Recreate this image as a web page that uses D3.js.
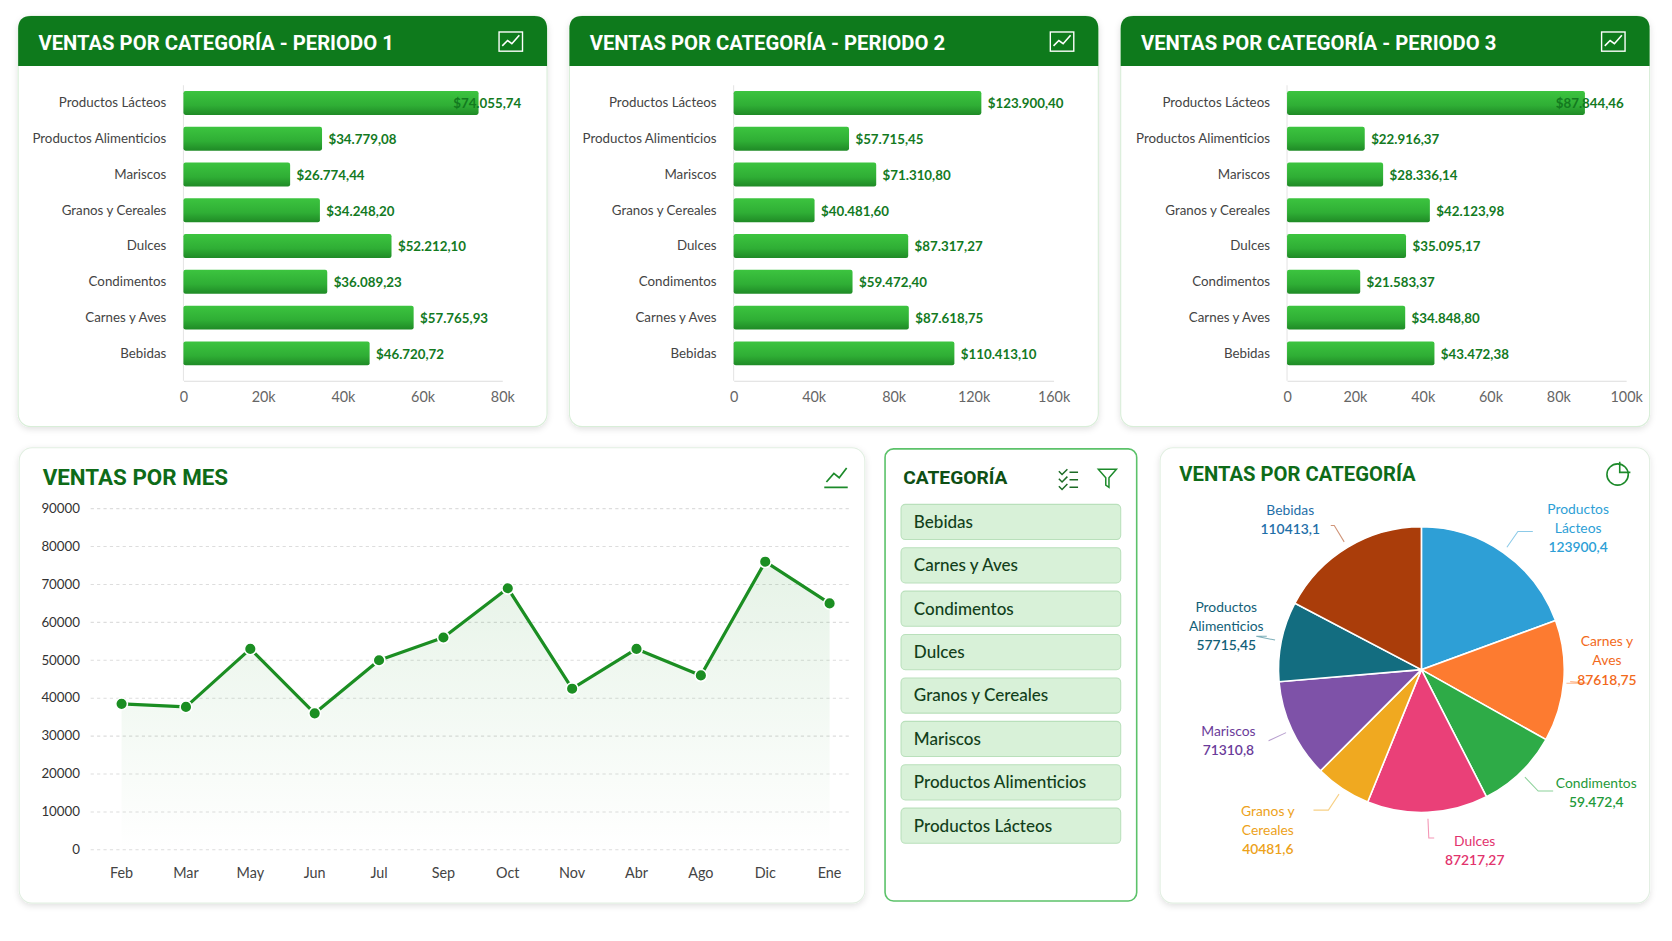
<!DOCTYPE html>
<html><head><meta charset="utf-8">
<script src="https://cdn.jsdelivr.net/npm/d3@7"></script>
<style>body{margin:0;background:#fff;overflow:hidden}svg{display:block;font-family:Lato,"Open Sans",sans-serif}</style>
</head><body>
<svg id="c" width="1672" height="941" viewBox="0 0 1568 882.5"></svg>
<script>
const categories = ["Productos Lácteos","Productos Alimenticios","Mariscos","Granos y Cereales","Dulces","Condimentos","Carnes y Aves","Bebidas"];
const period1 = [74055.74,34779.08,26774.44,34248.20,52212.10,36089.23,57765.93,46720.72];
const period2 = [123900.40,57715.45,71310.80,40481.60,87317.27,59472.40,87618.75,110413.10];
const period3 = [87844.46,22916.37,28336.14,42123.98,35095.17,21583.37,34848.80,43472.38];
const periodMax = [80000,160000,100000];
const periodTicks = [[0,20000,40000,60000,80000],[0,40000,80000,120000,160000],[0,20000,40000,60000,80000,100000]];
const months = ["Feb","Mar","May","Jun","Jul","Sep","Oct","Nov","Abr","Ago","Dic","Ene"];
const monthSales = [38500,37700,53000,36000,50000,56000,69000,42500,53000,46000,76000,65000];
const yTicks = [0,10000,20000,30000,40000,50000,60000,70000,80000,90000];
const filterItems = ["Bebidas","Carnes y Aves","Condimentos","Dulces","Granos y Cereales","Mariscos","Productos Alimenticios","Productos Lácteos"];
const pieCats = ["Productos Lácteos","Carnes y Aves","Condimentos","Dulces","Granos y Cereales","Mariscos","Productos Alimenticios","Bebidas"];
const pieVals = [123900.4,87618.75,59472.4,87217.27,40481.6,71310.8,57715.45,110413.1];
const pieLabels = ["123900,4","87618,75","59.472,4","87217,27","40481,6","71310,8","57715,45","110413,1"];
const pieLines = [["Productos","Lácteos"],["Carnes y","Aves"],["Condimentos"],["Dulces"],["Granos y","Cereales"],["Mariscos"],["Productos","Alimenticios"],["Bebidas"]];
const pieColors = ["#2e9fd6","#fd7b30","#2eab47","#ea4078","#f0a920","#7e52a8","#136d80","#aa3d0a"];
const pieTextColors = ["#2e9fd6","#f26a1b","#1f9a3a","#e2336d","#eda21a","#6b3c9a","#135f78","#1f6fa8"];
// label placement (display layout)
const pieLabelPos = [[147,-132],[174,-8],[164,116],[50,170],[-144,151],[-181,67],[-183,-40],[-123,-140]];

const svg = d3.select("#c");
const defs = svg.append("defs");
const f = defs.append("filter").attr("id","sh").attr("x","-5%").attr("y","-5%").attr("width","110%").attr("height","115%");
f.append("feDropShadow").attr("dx",0).attr("dy",2).attr("stdDeviation",3).attr("flood-color","#000").attr("flood-opacity",0.12);
const g1 = defs.append("linearGradient").attr("id","bar").attr("x1",0).attr("y1",0).attr("x2",0).attr("y2",1);
g1.append("stop").attr("offset",0).attr("stop-color","#3cc43f");
g1.append("stop").attr("offset",0.6).attr("stop-color","#2fae35");
g1.append("stop").attr("offset",1).attr("stop-color","#1f8a26");
const g2 = defs.append("linearGradient").attr("id","area").attr("x1",0).attr("y1",0).attr("x2",0).attr("y2",1);
g2.append("stop").attr("offset",0).attr("stop-color","#2e9a35").attr("stop-opacity",0.12);
g2.append("stop").attr("offset",1).attr("stop-color","#2e9a35").attr("stop-opacity",0);
const fmt = v => "$" + v.toLocaleString("de-DE",{minimumFractionDigits:2,maximumFractionDigits:2});
const fmtK = v => v===0?"0":(v/1000)+"k";

function icon(g,x,y){
  g.append("rect").attr("x",x).attr("y",y).attr("width",22).attr("height",18).attr("fill","none").attr("stroke","#fff").attr("stroke-width",1.3);
  g.append("path").attr("d",`M${x+3},${y+13}L${x+8},${y+8}L${x+12},${y+11}L${x+19},${y+3}`).attr("fill","none").attr("stroke","#fff").attr("stroke-width",1.5);
}

const periodData=[period1,period2,period3];
[17,534,1051].forEach((px,i)=>{
  const g = svg.append("g");
  const w=496,h=385,py=15;
  g.append("rect").attr("x",px).attr("y",py).attr("width",w).attr("height",h).attr("rx",12).attr("fill","#fff").attr("stroke","#d8eed8").attr("filter","url(#sh)");
  g.append("path").attr("d",`M${px},${py+47}V${py+12}Q${px},${py} ${px+12},${py}H${px+w-12}Q${px+w},${py} ${px+w},${py+12}V${py+47}Z`).attr("fill","#0e7a1c");
  g.append("text").attr("x",px+19).attr("y",py+32).attr("fill","#fff").attr("font-size",19).attr("font-weight",700).attr("font-family","Roboto,sans-serif").text("VENTAS POR CATEGORÍA - PERIODO "+(i+1));
  icon(g,px+w-45,py+15);
  const x0=[172,688,1207][i], x1=[471,988,1525][i];
  const x = d3.scaleLinear().domain([0,periodMax[i]]).range([x0,x1]);
  const y = d3.scaleBand().domain(categories).range([82,346]).paddingInner(0.33).paddingOuter(0.1);
  const ax = g.append("g").attr("transform","translate(0,357)").call(d3.axisBottom(x).tickValues(periodTicks[i]).tickFormat(fmtK).tickSize(0).tickPadding(10));
  ax.select(".domain").attr("stroke","#ddd");
  ax.selectAll("text").attr("font-size",13.5).attr("fill","#666").attr("font-family","Lato");
  g.append("line").attr("x1",x0).attr("x2",x0).attr("y1",80).attr("y2",357).attr("stroke","#e5e5e5");
  const d = categories.map((c,j)=>({c,v:periodData[i][j]}));
  g.selectAll(".b").data(d).enter().append("rect").attr("x",x0).attr("y",e=>y(e.c)).attr("width",e=>x(e.v)-x0).attr("height",y.bandwidth()).attr("rx",2).attr("fill","url(#bar)");
  g.selectAll(".l").data(d).enter().append("text").attr("x",x0-16).attr("y",e=>y(e.c)+y.bandwidth()/2+4).attr("text-anchor","end").attr("font-size",12.5).attr("fill","#444").text(e=>e.c);
  g.selectAll(".v").data(d).enter().append("text").attr("x",e=>Math.min(x(e.v)+6, px+w-8-80)).attr("y",e=>y(e.c)+y.bandwidth()/2+5).attr("font-size",12.5).attr("font-weight",700).attr("fill","#137a1f").text(e=>fmt(e.v));
});

// line chart
{
  const g = svg.append("g");
  g.append("rect").attr("x",18).attr("y",420).attr("width",793).attr("height",427).attr("rx",12).attr("fill","#fff").attr("stroke","#e2efe2").attr("filter","url(#sh)");
  g.append("text").attr("x",40).attr("y",455).attr("fill","#0e6b18").attr("font-size",21).attr("font-weight",700).attr("font-family","Roboto").text("VENTAS POR MES");
  g.append("path").attr("d","M773,457H795M775,452L782,444L787,448L794,439").attr("fill","none").attr("stroke","#1c8a2a").attr("stroke-width",1.6);
  const x = d3.scalePoint().domain(months).range([114,778]);
  const y = d3.scaleLinear().domain([0,90000]).range([797,477]);
  yTicks.forEach(t=>{
    g.append("line").attr("x1",85).attr("x2",797).attr("y1",y(t)).attr("y2",y(t)).attr("stroke","#ddd").attr("stroke-dasharray","3,3");
    g.append("text").attr("x",75).attr("y",y(t)+4).attr("text-anchor","end").attr("font-size",12.5).attr("fill","#333").text(t);
  });
  months.forEach(m=>g.append("text").attr("x",x(m)).attr("y",823).attr("text-anchor","middle").attr("font-size",13.5).attr("fill","#444").text(m));
  const data = months.map((m,i)=>[x(m),y(monthSales[i])]);
  g.append("path").attr("d",d3.area().x(d=>d[0]).y0(797).y1(d=>d[1])(data)).attr("fill","url(#area)");
  g.append("path").attr("d",d3.line()(data)).attr("fill","none").attr("stroke","#1b8e22").attr("stroke-width",3).attr("stroke-linejoin","round");
  g.selectAll("circle").data(data).enter().append("circle").attr("cx",d=>d[0]).attr("cy",d=>d[1]).attr("r",5.5).attr("fill","#1b8e22").attr("stroke","#fff").attr("stroke-width",1.5);
}

// filter panel
{
  const g = svg.append("g");
  g.append("rect").attr("x",830).attr("y",421).attr("width",236).attr("height",424).attr("rx",8).attr("fill","#fff").attr("stroke","#5cc26a").attr("stroke-width",1.5);
  g.append("text").attr("x",847).attr("y",454).attr("fill","#0e4f14").attr("font-size",18).attr("font-weight",700).attr("font-family","Roboto").text("CATEGORÍA");
  g.append("path").attr("d","M993,442l3,3l5,-5M1003,443h8M993,449l3,3l5,-5M1003,450h8M993,456l3,3l5,-5M1003,457h8").attr("fill","none").attr("stroke","#1c6b25").attr("stroke-width",1.4);
  g.append("path").attr("d","M1030,440h17l-7,8v9l-3,-2v-7z").attr("fill","none").attr("stroke","#1c8a2a").attr("stroke-width",1.4);
  filterItems.forEach((t,i)=>{
    const yy=473+i*40.7;
    g.append("rect").attr("x",845).attr("y",yy).attr("width",206).attr("height",33).attr("rx",4).attr("fill","#d8f1d8").attr("stroke","#b9e0bb");
    g.append("text").attr("x",857).attr("y",yy+22).attr("font-size",16).attr("fill","#12401a").attr("font-weight",500).attr("font-family","Lato").text(t);
  });
}

// pie
{
  const g = svg.append("g");
  g.append("rect").attr("x",1088).attr("y",420).attr("width",459).attr("height",427).attr("rx",12).attr("fill","#fff").attr("stroke","#e2efe2").attr("filter","url(#sh)");
  g.append("text").attr("x",1106).attr("y",451).attr("fill","#0e6b18").attr("font-size",19).attr("font-weight",700).attr("font-family","Roboto").text("VENTAS POR CATEGORÍA");
  g.append("circle").attr("cx",1517).attr("cy",445).attr("r",10).attr("fill","none").attr("stroke","#1c8a2a").attr("stroke-width",1.5);
  g.append("path").attr("d","M1519,433v10h10").attr("fill","none").attr("stroke","#1c8a2a").attr("stroke-width",1.5);
  const cx=1333, cy=628, r=134;
  const arcs = d3.pie().sort(null)(pieVals);
  const arc = d3.arc().innerRadius(0).outerRadius(r);
  const pg = g.append("g").attr("transform",`translate(${cx},${cy})`);
  pg.selectAll("path").data(arcs).enter().append("path").attr("d",arc).attr("fill",(d,i)=>pieColors[i]).attr("stroke","#fff").attr("stroke-width",1.5);
  arcs.forEach((a,i)=>{
    const m=(a.startAngle+a.endAngle)/2, sx=Math.sin(m), sy=-Math.cos(m);
    const p1=[sx*(r+6),sy*(r+6)], p2=[sx*(r+24),sy*(r+24)];
    const [tx,tyc]=pieLabelPos[i];
    const right = tx>0;
    const p3=[right?Math.min(tx-38,p2[0]+14):Math.max(tx+38,p2[0]-14),p2[1]];
    pg.append("polyline").attr("points",[p1,p2,p3].map(p=>p.join(",")).join(" ")).attr("fill","none").attr("stroke",pieColors[i]).attr("stroke-opacity",0.55);
    const lines=pieLines[i].concat([pieLabels[i]]);
    const lh=18;
    const ty = tyc-(lines.length-1)*lh/2+4;
    const t = pg.append("text").attr("text-anchor","middle").attr("font-size",13).attr("fill",pieTextColors[i]);
    lines.forEach((l,k)=>t.append("tspan").attr("x",tx).attr("y",ty+k*lh).attr("font-weight",k===lines.length-1?600:400).text(l));
  });
}
</script>
</body></html>
